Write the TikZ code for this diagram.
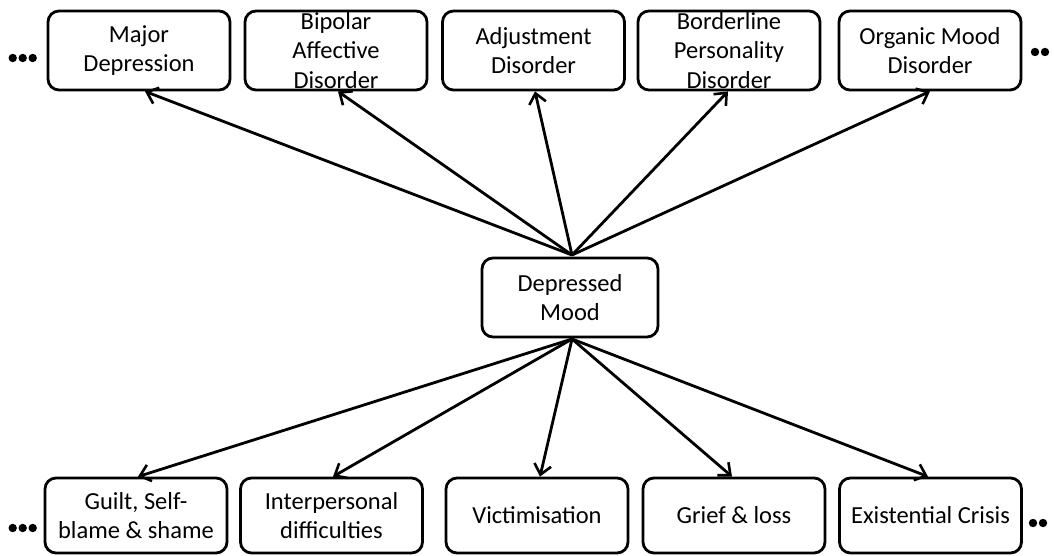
\documentclass[tikz,border=0pt]{standalone}
\usepackage{fontspec}
\setmainfont{Carlito}
\usetikzlibrary{arrows.meta}
\begin{document}
\begin{tikzpicture}[x=1pt,y=1pt,
  box/.style={draw, line width=2.8pt, rounded corners=11pt, minimum width=182pt, minimum height=79pt, inner sep=0pt},
  bbox/.style={box, minimum height=75pt},
  lbl/.style={align=center, font=\fontsize{24.5}{29.5}\selectfont, inner sep=0pt},
  arr/.style={line width=2.8pt, -{Straight Barb[length=10pt,width=17pt,line width=2.6pt]}},
  dotc/.style={fill=black}]
\useasboundingbox (0,0) rectangle (1054,555);
% top row
\node[box] (b1) at (139,504.5) {};
\node[box] (b2) at (336,504.5) {};
\node[box] (b3) at (533.5,504.5) {};
\node[box] (b4) at (729,504.5) {};
\node[box] (b5) at (930,504.5) {};
\node[lbl] (t1) at (b1) {Major\\Depression};
\node[lbl] (t2) at (b2) {Bipolar\\Affective\\Disorder};
\node[lbl] (t3) at (b3) {Adjustment\\Disorder};
\node[lbl] (t4) at (b4) {Borderline\\Personality\\Disorder};
\node[lbl] (t5) at (b5) {Organic Mood\\Disorder};
% centre
\node[box, minimum width=176pt] (dm) at (570,257.5) {};
\node[lbl] (tm) at (dm) {Depressed\\Mood};
% bottom row
\node[bbox] (c1) at (136,39.5) {};
\node[bbox] (c2) at (331.5,39.5) {};
\node[bbox] (c3) at (537,39.5) {};
\node[bbox] (c4) at (734,39.5) {};
\node[bbox] (c5) at (930.5,39.5) {};
\node[lbl] (u1) at (c1) {Guilt, Self-\\blame \& shame};
\node[lbl] (u2) at (c2) {Interpersonal\\difficulties};
\node[lbl] (u3) at (c3) {Victimisation};
\node[lbl] (u4) at (c4) {Grief \& loss};
\node[lbl] (u5) at (c5) {Existential Crisis};
% arrows
\coordinate (ct) at (572,300);
\coordinate (cb) at (572,216);
\draw[arr] (ct) -- ([xshift=6pt]b1.south);
\draw[arr] (ct) -- ([xshift=2pt]b2.south);
\draw[arr] (ct) -- ([xshift=1.5pt]b3.south);
\draw[arr] (ct) -- ([xshift=-1pt]b4.south);
\draw[arr] (ct) -- (b5.south);
\draw[arr] (cb) -- ([xshift=2pt]c1.north);
\draw[arr] (cb) -- ([xshift=1.5pt]c2.north);
\draw[arr] (cb) -- ([xshift=3pt]c3.north);
\draw[arr] (cb) -- ([xshift=-2pt]c4.north);
\draw[arr] (cb) -- ([xshift=-2.5pt]c5.north);
% ellipses
\foreach \x in {12.7,22.7,32.7} {
  \fill[dotc] (\x,497) circle (4.2pt);
  \fill[dotc] (\x,27) circle (4.2pt);
}
\foreach \x in {1035,1045} {
  \fill[dotc] (\x,503) circle (4.2pt);
  \fill[dotc] (\x-2,32) circle (4.2pt);
}
\end{tikzpicture}
\end{document}
